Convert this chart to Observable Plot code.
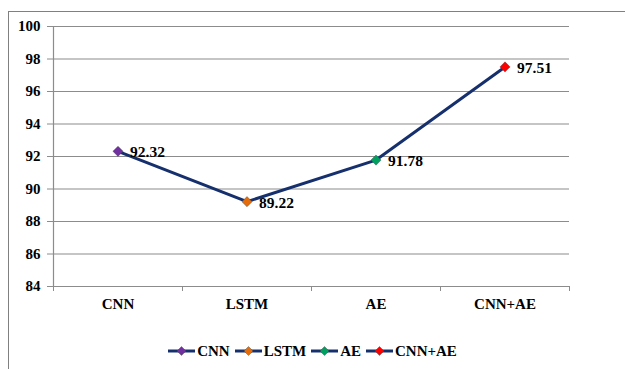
<!DOCTYPE html>
<html>
<head>
<meta charset="utf-8">
<script src="https://cdn.jsdelivr.net/npm/d3@7"></script>
<script src="https://cdn.jsdelivr.net/npm/@observablehq/plot@0.6"></script>
<style>
  html, body { margin: 0; padding: 0; background: #fff; }
  #wrap { position: relative; width: 625px; height: 369px; overflow: hidden; font-family: 'Liberation Serif', serif; }
  #frame { position: absolute; left: 8px; top: 11px; right: -10px; bottom: -10px; border-left: 1.5px solid #808080; border-top: 1.5px solid #808080; pointer-events: none; }
  #chart { position: absolute; left: 0; top: 0; }
  #legend { position: absolute; left: 0; width: 625px; top: 341px; height: 20px; display: flex; justify-content: center; align-items: center; font-family: 'Liberation Serif', serif; font-weight: bold; font-size: 15px; color: #000; }
  #legend .item { display: flex; align-items: center; margin: 0 2.5px; }
  #legend svg { display: block; margin-right: 2px; }
</style>
</head>
<body>
<div id="wrap">
  <div id="frame"></div>
  <div id="chart"></div>
  <div id="legend"></div>
</div>
<script>
// Model names and their accuracy (%)
const categories = ["CNN", "LSTM", "AE", "CNN+AE"];
const accuracy = [92.32, 89.22, 91.78, 97.51];
const markerColors = ["#7030a0", "#e46c0a", "#00a060", "#ff0000"];
const yTicks = [84, 86, 88, 90, 92, 94, 96, 98, 100];

const serif = "Liberation Serif";
const lineColor = "#16306e";
const gridColor = "#8c8c8c";

const data = categories.map((name, i) => ({ i, name, value: accuracy[i], color: markerColors[i] }));
// band edges between categories, used for the small x-axis ticks
const edges = d3.range(-0.5, categories.length, 1);

const chart = Plot.plot({
  width: 625,
  height: 325,
  marginLeft: 53,
  marginRight: 56,
  marginTop: 26,
  marginBottom: 39,
  x: { domain: [-0.5, categories.length - 0.5], label: null },
  y: { domain: [yTicks[0], yTicks[yTicks.length - 1]], label: null },
  color: { type: "identity" },
  style: {
    fontFamily: serif,
    fontSize: "15px",
    color: "#000",
    background: "transparent",
    overflow: "visible"
  },
  marks: [
    Plot.ruleY(yTicks, { stroke: gridColor, strokeWidth: 1.2 }),
    Plot.ruleX([edges[0]], { y1: yTicks[0], y2: yTicks[yTicks.length - 1], stroke: gridColor, strokeWidth: 1.2 }),
    Plot.axisY({ ticks: yTicks, tickSize: 6, tickPadding: 7, stroke: gridColor, fontFamily: serif, fontWeight: "bold", fontSize: 15, label: null }),
    Plot.axisX({ ticks: edges, tickSize: 5, tickFormat: () => "", stroke: gridColor, label: null }),
    Plot.axisX({ ticks: categories.map((_, i) => i), tickSize: 0, tickPadding: 12, tickFormat: i => categories[i], fontFamily: serif, fontWeight: "bold", fontSize: 15, label: null }),
    Plot.line(data, { x: "i", y: "value", stroke: lineColor, strokeWidth: 3 }),
    Plot.dot(data, { x: "i", y: "value", symbol: "diamond2", r: 4.6, fill: "color", stroke: "#444", strokeWidth: 0.4 }),
    Plot.text(data, { x: "i", y: "value", text: d => d.value.toFixed(2), textAnchor: "start", dx: 12, dy: 1, fontFamily: serif, fontWeight: "bold", fontSize: 15.5, fill: "#000" })
  ]
});
document.getElementById("chart").appendChild(chart);

// Legend: line segment with a diamond marker, followed by the model name
const legend = d3.select("#legend");
categories.forEach((name, i) => {
  const item = legend.append("div").attr("class", "item");
  const svg = item.append("svg").attr("width", 27).attr("height", 12);
  svg.append("line").attr("x1", 0).attr("x2", 27).attr("y1", 6).attr("y2", 6)
    .attr("stroke", lineColor).attr("stroke-width", 3);
  svg.append("path").attr("d", "M13.5,1.5L18,6L13.5,10.5L9,6Z")
    .attr("fill", markerColors[i]).attr("stroke", "#444").attr("stroke-width", 0.4);
  item.append("span").text(name);
});
</script>
</body>
</html>
